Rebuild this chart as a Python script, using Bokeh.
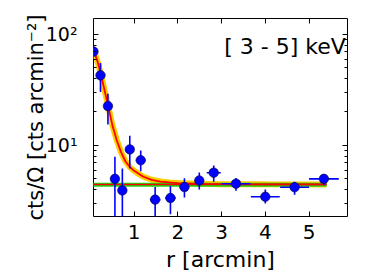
from bokeh.plotting import figure
from bokeh.models import FixedTicker, LinearAxis, LogAxis, Label, CustomJSTickFormatter, Range1d
from bokeh.embed import file_html
from bokeh.resources import INLINE

# ---- data ----
r = [0.07, 0.23, 0.40, 0.56, 0.73, 0.90, 1.15, 1.48, 1.83, 2.15, 2.49, 2.82, 3.33, 4.00, 4.67, 5.34]
r_err = [0.03, 0.07, 0.08, 0.07, 0.07, 0.08, 0.11, 0.12, 0.12, 0.11, 0.10, 0.16, 0.33, 0.33, 0.33, 0.34]
sb = [70, 42.8, 22.6, 5.0, 3.93, 9.2, 7.35, 3.25, 3.36, 4.22, 4.83, 5.68, 4.52, 3.45, 4.2, 5.0]
sb_lo = [63, 30.2, 15.4, 1.0, 1.0, 6.2, 5.85, 1.0, 2.4, 3.4, 4.0, 4.7, 3.9, 3.0, 3.6, 4.4]
sb_hi = [78, 55.3, 29.2, 7.9, 6.2, 12.2, 9.0, 4.22, 4.3, 5.05, 5.7, 6.6, 5.1, 4.0, 4.7, 5.5]

model_r = [0.04, 0.10, 0.15, 0.20, 0.25, 0.30, 0.35, 0.40, 0.50, 0.60, 0.70, 0.80, 0.90,
           1.00, 1.20, 1.40, 1.60, 1.80, 2.00, 2.50, 3.00, 4.00, 5.40]
model_y = [75, 66.8, 59.0, 50.2, 41.8, 34.4, 28.2, 23.2, 15.3, 11.2, 8.7, 7.2, 6.4,
           5.9, 5.25, 4.9, 4.73, 4.64, 4.58, 4.51, 4.48, 4.46, 4.45]

bkg_r = [0.04, 5.40]
bkg_y = [4.42, 4.42]
bkg_fit = [4.44, 4.44]

x_ticks = [1, 2, 3, 4, 5]
y_major = [10, 100]
y_minor = [3, 4, 5, 6, 7, 8, 9, 20, 30, 40, 50, 60, 70, 80, 90]
y_tick_labels = {10: "10¹", 100: "10²"}
band_label = "[ 3 - 5] keV"

FONT = "DejaVu Sans"
FS_TICK = "20px"
FS_LAB = "22px"

p = figure(width=375, height=274, y_axis_type="log",
           x_range=Range1d(0.07, 5.88), y_range=Range1d(2.29, 139),
           output_backend="svg", toolbar_location=None,
           min_border_left=93, min_border_right=28, min_border_top=18, min_border_bottom=52)
p.background_fill_color = "white"
p.border_fill_color = "white"
p.outline_line_color = "black"
p.outline_line_width = 1
p.xgrid.visible = False
p.ygrid.visible = False

# model band + line
p.line(model_r, model_y, line_color="#ffcc00", line_width=6)
p.line(bkg_r, bkg_y, line_color="#11dd11", line_width=4)
p.line(model_r, model_y, line_color="#ff0000", line_width=1.8)
p.line(bkg_r, bkg_fit, line_color="#ff0000", line_width=1.5)

# error bars
x0 = [a - e for a, e in zip(r, r_err)]
x1 = [a + e for a, e in zip(r, r_err)]
p.segment(x0=x0, y0=sb, x1=x1, y1=sb, line_color="#0000ff", line_width=1.6)
p.segment(x0=r, y0=sb_lo, x1=r, y1=sb_hi, line_color="#0000ff", line_width=1.6)
p.scatter(r, sb, size=9.5, fill_color="#0000ff", line_color="#000033", line_width=0.6)

# axes
xa = p.xaxis[0]
xa.ticker = FixedTicker(ticks=x_ticks)
xa.axis_label = "r [arcmin]"
ya = p.yaxis[0]
ya.ticker = FixedTicker(ticks=y_major, minor_ticks=y_minor)
ya.major_label_overrides = y_tick_labels
ya.axis_label = "cts/Ω [cts arcmin⁻²]"

for ax in (xa, ya):
    ax.axis_label_text_font = FONT
    ax.axis_label_text_font_size = FS_LAB
    ax.axis_label_text_font_style = "normal"
    ax.major_label_text_font = FONT
    ax.major_label_text_font_size = FS_TICK
    ax.major_label_text_color = "black"
    ax.axis_label_text_color = "black"
    ax.axis_line_color = None
    ax.major_tick_in = 5
    ax.major_tick_out = 0
    ax.minor_tick_in = 3
    ax.minor_tick_out = 0
    ax.major_tick_line_color = "black"
    ax.minor_tick_line_color = "black"
xa.minor_tick_line_color = None
xa.major_label_standoff = 8
xa.axis_label_standoff = 5
ya.major_label_text_font_size = "19px"
ya.axis_label_text_font_size = "21px"
ya.major_label_standoff = 16
ya.axis_label_standoff = -5

empty = CustomJSTickFormatter(code="return '';")
top = LinearAxis(ticker=FixedTicker(ticks=x_ticks), formatter=empty)
right = LogAxis(ticker=FixedTicker(ticks=y_major, minor_ticks=y_minor), formatter=empty)
for ax in (top, right):
    ax.axis_line_color = None
    ax.major_tick_in = 5
    ax.major_tick_out = 0
    ax.minor_tick_in = 3
    ax.minor_tick_out = 0
    ax.major_label_standoff = 0
    ax.major_label_text_font_size = "1px"
top.minor_tick_line_color = None
p.add_layout(top, "above")
p.add_layout(right, "right")

p.add_layout(Label(x=5.84, y=77, text=band_label, text_align="right",
                   text_baseline="alphabetic", text_font=FONT, text_font_size=FS_LAB,
                   text_color="black"))

open("out.html", "w").write(file_html(p, INLINE))
